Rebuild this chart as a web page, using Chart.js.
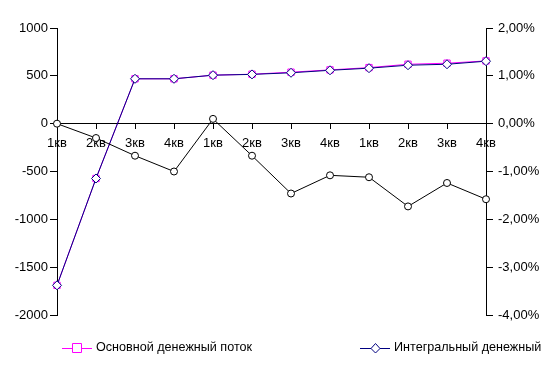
<!DOCTYPE html>
<html>
<head>
<meta charset="utf-8">
<script src="https://cdn.jsdelivr.net/npm/chart.js@4.4.0/dist/chart.umd.min.js"></script>
<style>
  html, body { margin: 0; padding: 0; background: #fff; }
  #wrap { width: 542px; height: 367px; }
</style>
</head>
<body>
<div id="wrap"><canvas id="chart" width="542" height="367"></canvas></div>
<script>
const quarters = ['1кв', '2кв', '3кв', '4кв', '1кв', '2кв', '3кв', '4кв', '1кв', '2кв', '3кв', '4кв'];

// основной денежный поток (левая ось)
const mainFlow = [-1690, -573, 469, 469, 507, 517, 538, 562, 586, 621, 632, 656];
// интегральный денежный поток (левая ось)
const integralFlow = [-1690, -573, 469, 469, 507, 515, 532, 558, 580, 611, 621, 653];
// процент, правая ось
const ratePct = [0, -0.30, -0.67, -1.00, 0.10, -0.67, -1.46, -1.08, -1.12, -1.73, -1.24, -1.58];

const legendLabels = ['Основной денежный поток', 'Интегральный денежный'];

const tickFont = { family: "'Liberation Sans', Arial, sans-serif", size: 13 };

// own legend: line with marker, like in the picture
const bottomLegend = {
  id: 'bottomLegend',
  afterDraw(chart) {
    const ctx = chart.ctx;
    const y = 348;
    const items = [
      { x: 62, color: '#ff00ff', marker: 'rect', text: legendLabels[0] },
      { x: 360, color: '#000080', marker: 'rectRot', text: legendLabels[1] }
    ];
    ctx.save();
    items.forEach(it => {
      ctx.strokeStyle = it.color;
      ctx.lineWidth = 1;
      ctx.beginPath();
      ctx.moveTo(it.x, y + 0.5);
      ctx.lineTo(it.x + 30, y + 0.5);
      ctx.stroke();
      ctx.fillStyle = '#fff';
      ctx.beginPath();
      if (it.marker === 'rect') {
        ctx.rect(it.x + 10.5, y - 4.5, 9, 9);
      } else {
        ctx.moveTo(it.x + 15.5, y - 4.5);
        ctx.lineTo(it.x + 20, y + 0.5);
        ctx.lineTo(it.x + 15.5, y + 5);
        ctx.lineTo(it.x + 11, y + 0.5);
        ctx.closePath();
      }
      ctx.fill();
      ctx.stroke();
      ctx.fillStyle = '#000';
      ctx.font = "12.6px 'Liberation Sans', Arial, sans-serif";
      ctx.textBaseline = 'middle';
      ctx.fillText(it.text, it.x + 34, y);
    });
    ctx.restore();
  }
};

new Chart(document.getElementById('chart'), {
  type: 'line',
  data: {
    labels: quarters,
    datasets: [
      {
        label: legendLabels[0],
        data: mainFlow,
        yAxisID: 'y',
        borderColor: '#ff00ff',
        borderWidth: 1,
        pointStyle: 'rect',
        pointRadius: 4.5,
        pointBackgroundColor: '#fff',
        pointBorderColor: '#ff00ff',
        pointBorderWidth: 1,
        tension: 0,
        order: 2
      },
      {
        label: legendLabels[1],
        data: integralFlow,
        yAxisID: 'y',
        borderColor: '#000080',
        borderWidth: 1,
        pointStyle: 'rectRot',
        pointRadius: 4.5,
        pointBackgroundColor: '#fff',
        pointBorderColor: '#000080',
        pointBorderWidth: 1,
        tension: 0,
        order: 1
      },
      {
        label: 'rate',
        data: ratePct,
        yAxisID: 'y1',
        borderColor: '#000',
        borderWidth: 1,
        pointStyle: 'circle',
        pointRadius: 3.5,
        pointBackgroundColor: '#fff',
        pointBorderColor: '#000',
        pointBorderWidth: 1,
        tension: 0,
        order: 0
      }
    ]
  },
  options: {
    responsive: false,
    animation: false,
    layout: { padding: { top: 28, bottom: 52, left: 0, right: 0 } },
    plugins: { legend: { display: false }, tooltip: { enabled: false } },
    scales: {
      x: {
        type: 'category',
        offset: false,
        position: { y: 0 },
        grid: { drawOnChartArea: false, tickLength: 5, color: '#000' },
        border: { color: '#000' },
        ticks: { color: '#000', font: tickFont, padding: 7, maxRotation: 0, autoSkip: false }
      },
      y: {
        position: 'left',
        min: -2000,
        max: 1000,
        grid: { drawOnChartArea: false, tickLength: 7, color: '#000' },
        border: { color: '#000' },
        ticks: { stepSize: 500, color: '#000', font: tickFont, padding: 2, callback: v => String(v) },
        afterFit: s => { s.width = 57; }
      },
      y1: {
        position: 'right',
        min: -4,
        max: 2,
        grid: { drawOnChartArea: false, tickLength: 7, color: '#000' },
        border: { color: '#000' },
        ticks: { stepSize: 1, color: '#000', font: tickFont, padding: 5,
          callback: v => v.toFixed(2).replace('.', ',') + '%' },
        afterFit: s => { s.width = 56; }
      }
    }
  },
  plugins: [bottomLegend]
});
</script>
</body>
</html>
